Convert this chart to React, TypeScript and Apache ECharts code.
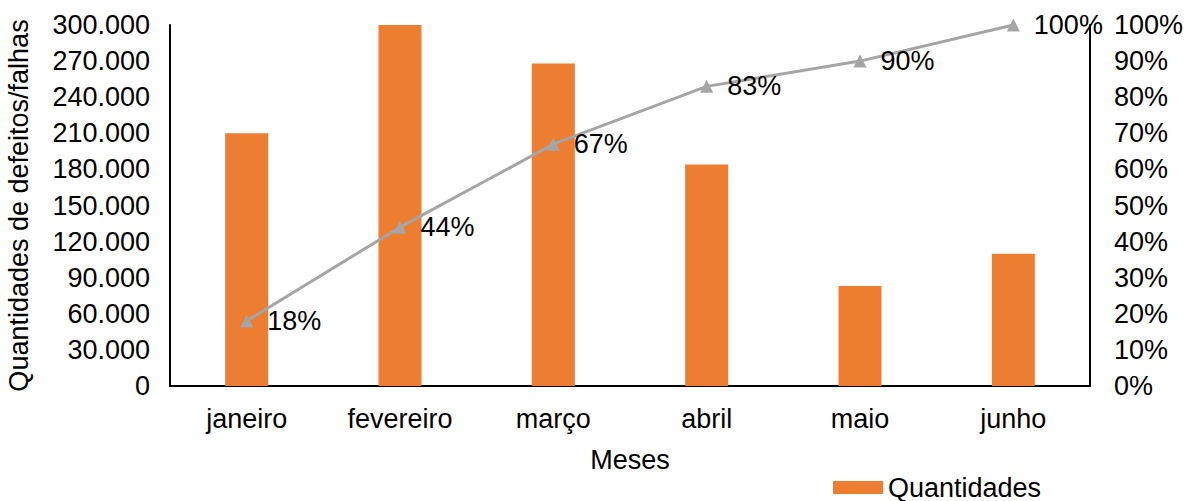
import React, { useEffect, useRef } from "react";
import * as echarts from "echarts";

const months = ["janeiro", "fevereiro", "março", "abril", "maio", "junho"];
const quantities = [210000, 300000, 268000, 184000, 83000, 110000];
const cumulativePct = [18, 44, 67, 83, 90, 100];

const FONT = "Liberation Sans, Arial, sans-serif";
const FS = 27;

function fmtThousands(v: number): string {
  return String(Math.round(v)).replace(/\B(?=(\d{3})+(?!\d))/g, ".");
}

export default function App() {
  const ref = useRef<HTMLDivElement>(null);
  useEffect(() => {
    document.body.style.margin = "0";
    const chart = echarts.init(ref.current!, null, { renderer: "svg" });
    chart.setOption({
      animation: false,
      backgroundColor: "#ffffff",
      textStyle: { fontFamily: FONT, color: "#000" },
      grid: {
        left: 170,
        right: 96,
        top: 25,
        bottom: 115,
        containLabel: false,
        outerBoundsMode: "none",
      },
      legend: {
        data: [{ name: "Quantidades", icon: "rect" }],
        left: 833,
        top: 474,
        padding: 0,
        itemWidth: 50,
        itemHeight: 13,
        itemGap: 10,
        textStyle: { fontSize: FS, color: "#000", fontFamily: FONT },
      },
      xAxis: {
        type: "category",
        data: months,
        name: "Meses",
        nameLocation: "middle",
        nameGap: 60,
        nameTextStyle: { fontSize: FS, color: "#000", fontFamily: FONT },
        axisLine: { show: true, lineStyle: { color: "#000", width: 2 } },
        axisTick: { show: false },
        axisLabel: { fontSize: FS, color: "#000", margin: 19, fontFamily: FONT },
      },
      yAxis: [
        {
          type: "value",
          min: 0,
          max: 300000,
          interval: 30000,
          name: "Quantidades de defeitos/falhas",
          nameLocation: "middle",
          nameGap: 138,
          nameRotate: 90,
          nameTextStyle: { fontSize: FS, color: "#000", fontFamily: FONT },
          axisLine: { show: true, lineStyle: { color: "#000", width: 2 } },
          axisTick: { show: false },
          splitLine: { show: false },
          axisLabel: {
            fontSize: FS,
            color: "#000",
            margin: 20,
            fontFamily: FONT,
            formatter: (v: number) => fmtThousands(v),
          },
        },
        {
          type: "value",
          min: 0,
          max: 100,
          interval: 10,
          position: "right",
          axisLine: { show: true, lineStyle: { color: "#000", width: 2 } },
          axisTick: { show: false },
          splitLine: { show: false },
          axisLabel: {
            fontSize: FS,
            color: "#000",
            margin: 24,
            fontFamily: FONT,
            formatter: (v: number) => v + "%",
          },
        },
      ],
      series: [
        {
          name: "Quantidades",
          type: "bar",
          data: quantities,
          barWidth: 43,
          itemStyle: { color: "#ED7D31" },
          yAxisIndex: 0,
        },
        {
          name: "Acumulado",
          type: "line",
          data: cumulativePct,
          yAxisIndex: 1,
          symbol: "triangle",
          symbolSize: 13,
          lineStyle: { color: "#A5A5A5", width: 3 },
          itemStyle: { color: "#A5A5A5" },
          label: {
            show: true,
            position: "right",
            distance: 14,
            fontSize: FS,
            color: "#000",
            fontFamily: FONT,
            formatter: (p: any) => p.value + "%",
          },
        },
      ],
    });
    return () => chart.dispose();
  }, []);
  return <div ref={ref} style={{ width: 1186, height: 501 }} />;
}
